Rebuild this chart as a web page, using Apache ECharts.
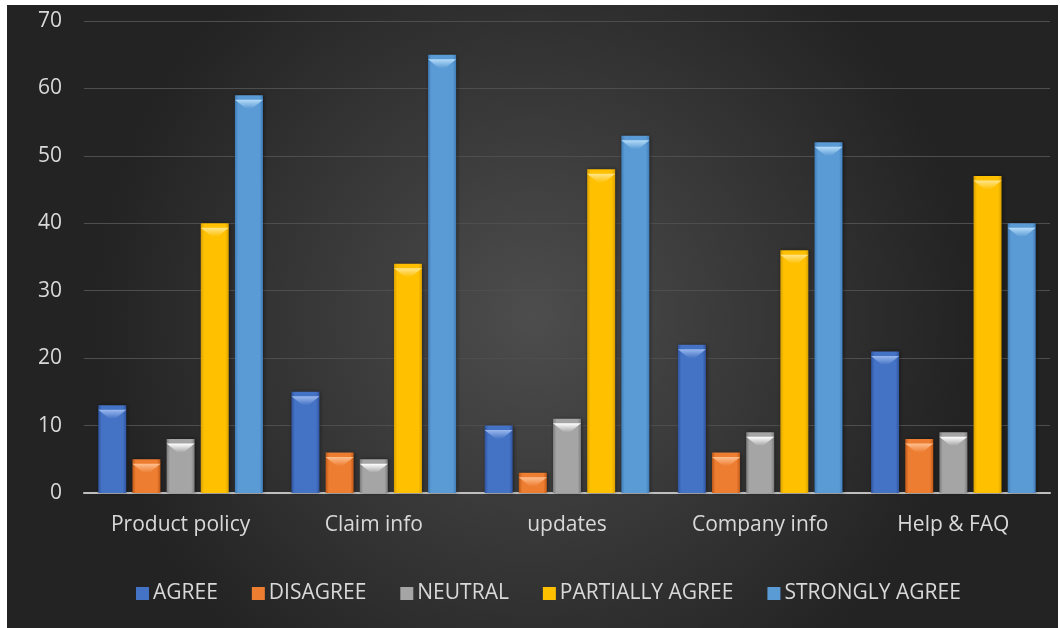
<!DOCTYPE html>
<html>
<head>
<meta charset="utf-8">
<script src="https://cdn.jsdelivr.net/npm/echarts@6/dist/echarts.min.js"></script>
<style>
  html, body { margin: 0; padding: 0; background: #ffffff; }
  #chart { position: absolute; left: 7px; top: 5px; width: 1051px; height: 623px; }
</style>
</head>
<body>
<div id="chart"></div>
<script>
// Survey responses per website section
const categories = ['Product policy', 'Claim info', 'updates', 'Company info', 'Help & FAQ'];
const agree          = [13, 15, 10, 22, 21];
const disagree       = [5, 6, 3, 6, 8];
const neutral        = [8, 5, 11, 9, 9];
const partiallyAgree = [40, 34, 48, 36, 47];
const stronglyAgree  = [59, 65, 53, 52, 40];
const yTicks = { min: 0, max: 70, interval: 10 };

const seriesDefs = [
  { name: 'AGREE',           data: agree,          base: '#4472c4', dark: '#2f54a0', light: '#9ab8ee' },
  { name: 'DISAGREE',        data: disagree,       base: '#ed7d31', dark: '#c05a18', light: '#ffbf8f' },
  { name: 'NEUTRAL',         data: neutral,        base: '#a5a5a5', dark: '#7c7c7c', light: '#ffffff' },
  { name: 'PARTIALLY AGREE', data: partiallyAgree, base: '#ffc000', dark: '#d9a000', light: '#ffe58a' },
  { name: 'STRONGLY AGREE',  data: stronglyAgree,  base: '#5b9bd5', dark: '#3f7cb8', light: '#b5dcfa' }
];

const BAR_W = 28;
const BAR_GAP = '22%';
const CAT_GAP = '15%';
const font = '"Open Sans", "Noto Sans", sans-serif';

function bodyFill(s) {
  return new echarts.graphic.LinearGradient(0, 0, 1, 0, [
    { offset: 0, color: s.dark },
    { offset: 0.12, color: s.base },
    { offset: 0.88, color: s.base },
    { offset: 1, color: s.dark }
  ]);
}

const series = [];
seriesDefs.forEach(s => {
  series.push({
    name: s.name,
    type: 'bar',
    data: s.data,
    barWidth: BAR_W,
    barGap: BAR_GAP,
    barCategoryGap: CAT_GAP,
    itemStyle: { color: bodyFill(s), shadowColor: 'rgba(0,0,0,0.45)', shadowBlur: 4, shadowOffsetX: 1 },
    emphasis: { disabled: true }
  });
});
// bevelled caps on top of each bar
seriesDefs.forEach(s => {
  series.push({
    name: s.name,
    type: 'pictorialBar',
    data: s.data,
    symbol: 'path://M0,0 L28,0 L17,9 L11,9 Z',
    symbolSize: [BAR_W, 9],
    symbolPosition: 'end',
    symbolOffset: [0, '50%'],
    barWidth: BAR_W,
    barGap: BAR_GAP,
    barCategoryGap: CAT_GAP,
    itemStyle: {
      color: new echarts.graphic.LinearGradient(0, 0, 0, 1, [
        { offset: 0, color: s.light },
        { offset: 1, color: s.base }
      ])
    },
    z: 3,
    silent: true,
    emphasis: { disabled: true }
  });
});

const chart = echarts.init(document.getElementById('chart'));
chart.setOption({
  animation: false,
  backgroundColor: new echarts.graphic.RadialGradient(0.5, 0.5, 0.7, [
    { offset: 0, color: '#4d4d4d' },
    { offset: 1, color: '#232323' }
  ]),
  grid: { left: 77, right: 8, top: 16, bottom: 135 },
  legend: {
    data: seriesDefs.map(s => ({ name: s.name, itemStyle: { color: s.base } })),
    bottom: 19,
    left: 124,
    icon: 'rect',
    itemWidth: 13,
    itemHeight: 13,
    itemGap: 34,
    textStyle: { color: '#d9d9d9', fontSize: 21, fontFamily: font, padding: [0, 0, 0, -1] }
  },
  xAxis: {
    type: 'category',
    data: categories,
    axisLine: { lineStyle: { color: '#bfbfbf', width: 2 } },
    axisTick: { show: false },
    axisLabel: { color: '#d9d9d9', fontSize: 21, fontFamily: font, margin: 22 }
  },
  yAxis: {
    type: 'value',
    min: yTicks.min,
    max: yTicks.max,
    interval: yTicks.interval,
    axisLine: { show: false },
    axisTick: { show: false },
    splitLine: { lineStyle: { color: '#4e4e4e', width: 1 } },
    axisLabel: { color: '#d9d9d9', fontSize: 21, fontFamily: font, margin: 22 }
  },
  series: series
});
</script>
</body>
</html>
